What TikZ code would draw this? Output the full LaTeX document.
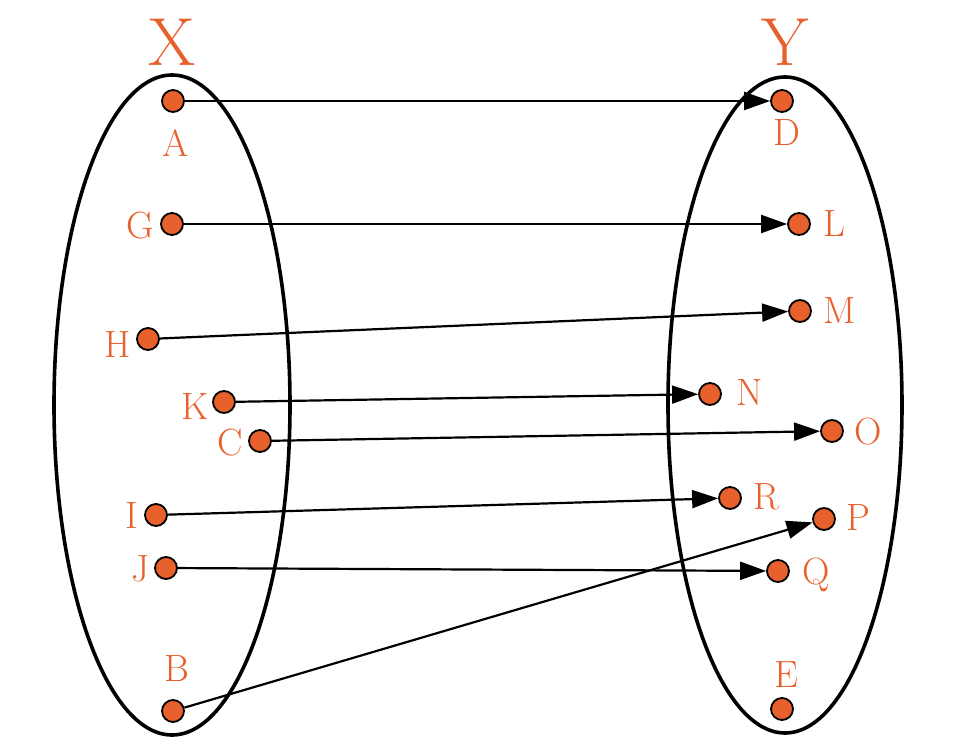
\documentclass[tikz,border=0pt]{standalone}
\usetikzlibrary{arrows.meta}
\definecolor{org}{HTML}{E8602C}
\begin{document}
\begin{tikzpicture}[x=0.5pt,y=-0.5pt,
  dot/.style={circle,fill=org,draw=black,line width=0.9pt,minimum size=11pt,inner sep=0pt},
  lab/.style={text=org,font=\fontsize{19}{20}\selectfont,inner sep=0pt},
  ttl/.style={text=org,font=\fontsize{34}{36}\selectfont,inner sep=0pt},
  arr/.style={-{Triangle[length=13pt,width=9pt]},line width=1.1pt,shorten >=0pt}]
\useasboundingbox (0,0) rectangle (960,749);
\draw[line width=1.8pt] (172,405) ellipse [x radius=118, y radius=330];
\draw[line width=1.8pt] (785,405) ellipse [x radius=117, y radius=328];
\node[ttl] (X) at (172,42) {X};
\node[ttl] (Y) at (785,42) {Y};
\node[dot] (A) at (173,101) {}; \node[lab] (lA) at (176,143) {A};
\node[dot] (G) at (172,224) {}; \node[lab] (lG) at (140,226) {G};
\node[dot] (H) at (148,339) {}; \node[lab] (lH) at (118,345) {H};
\node[dot] (K) at (224,402) {}; \node[lab] (lK) at (195,407) {K};
\node[dot] (C) at (260,441) {}; \node[lab] (lC) at (230,443) {C};
\node[dot] (I) at (156,515) {}; \node[lab] (lI) at (132,516) {I};
\node[dot] (J) at (166,568) {}; \node[lab] (lJ) at (140,569) {J};
\node[dot] (B) at (173,711) {}; \node[lab] (lB) at (177,669) {B};
\node[dot] (D) at (782,101) {}; \node[lab] (lD) at (787,133) {D};
\node[dot] (L) at (799,224) {}; \node[lab] (lL) at (834,224) {L};
\node[dot] (M) at (800,311) {}; \node[lab] (lM) at (840,311) {M};
\node[dot] (N) at (710,394) {}; \node[lab] (lN) at (750,393) {N};
\node[dot] (O) at (832,431) {}; \node[lab] (lO) at (868,432) {O};
\node[dot] (R) at (730,498) {}; \node[lab] (lR) at (766,497) {R};
\node[dot] (P) at (824,519) {}; \node[lab] (lP) at (858,518) {P};
\node[dot] (Q) at (778,571) {}; \node[lab] (lQ) at (816,575) {Q};
\node[dot] (E) at (782,709) {}; \node[lab] (lE) at (786,675) {E};
\draw[arr] (A) -- (D);
\draw[arr] (G) -- (L);
\draw[arr] (H) -- (M);
\draw[arr] (K) -- (N);
\draw[arr] (C) -- (O);
\draw[arr] (I) -- (R);
\draw[arr] (J) -- (Q);
\draw[arr] (B) -- (P);
\end{tikzpicture}
\end{document}
